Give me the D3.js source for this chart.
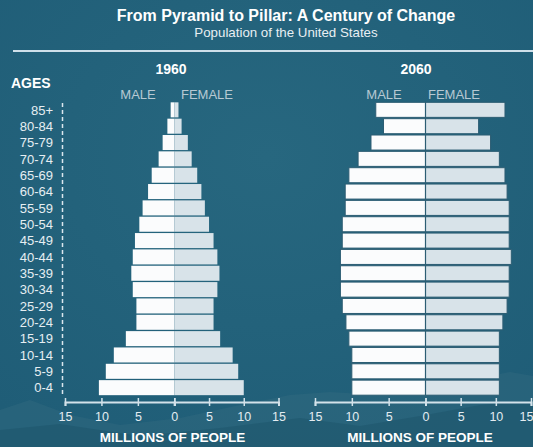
<!DOCTYPE html>
<html>
<head>
<meta charset="utf-8">
<script src="https://cdn.jsdelivr.net/npm/d3@7"></script>
<style>
  html, body { margin: 0; padding: 0; background: #21617b; }
  svg { display: block; font-family: "Liberation Sans", Arial, Helvetica, sans-serif; }
</style>
</head>
<body>
<svg id="chart" width="533" height="447"></svg>
<script>
// ---- data ----
const ages = ["85+","80-84","75-79","70-74","65-69","60-64","55-59","50-54","45-49","40-44","35-39","30-34","25-29","20-24","15-19","10-14","5-9","0-4"];
const male1960   = [0.5,0.95,1.6,2.15,3.1,3.6,4.35,4.8,5.4,5.7,5.9,5.7,5.2,5.2,6.65,8.3,9.4,10.35];
const female1960 = [0.6,1.05,1.95,2.5,3.3,3.9,4.4,5.0,5.65,6.2,6.5,6.2,5.65,5.65,6.6,8.4,9.2,10.0];
const male2060   = [6.75,5.7,7.4,9.15,10.4,10.9,10.9,11.3,11.3,11.55,11.55,11.55,11.3,10.8,10.4,10.0,10.0,10.0];
const female2060 = [11.3,7.55,9.25,10.5,11.3,11.6,11.9,11.9,11.9,12.2,11.9,11.9,11.6,11.0,10.5,10.5,10.5,10.5];
const tickValues = [0,5,10,15];
const years = ["1960","2060"];
const sexLabels = ["MALE","FEMALE"];
const title = "From Pyramid to Pillar: A Century of Change";
const subtitle = "Population of the United States";
const axisTitle = "MILLIONS OF PEOPLE";

// ---- drawing ----
const svg = d3.select("#chart");
const W = 533, H = 447;

// background
const defs = svg.append("defs");
const grad = defs.append("radialGradient").attr("id","bg").attr("cx","50%").attr("cy","35%").attr("r","75%");
grad.append("stop").attr("offset","0%").attr("stop-color","#27677f");
grad.append("stop").attr("offset","100%").attr("stop-color","#1f5d77");
svg.append("rect").attr("width",W).attr("height",H).attr("fill","url(#bg)");

// faint mountains
svg.append("path")
  .attr("d","M0,410 L30,400 L70,415 L120,425 L180,418 L240,405 L290,395 L330,392 L380,395 L430,388 L480,378 L510,372 L533,376 L533,447 L0,447 Z")
  .attr("fill","#3a6f86").attr("opacity",0.3);
svg.append("path")
  .attr("d","M0,430 L60,424 L140,436 L220,428 L300,418 L360,426 L420,416 L480,405 L533,400 L533,447 L0,447 Z")
  .attr("fill","#1b5269").attr("opacity",0.45);

// title
svg.append("text").attr("x",286).attr("y",21).attr("text-anchor","middle")
  .attr("fill","#ffffff").attr("font-size",16).attr("font-weight","bold").text(title);
svg.append("text").attr("x",286).attr("y",37).attr("text-anchor","middle")
  .attr("fill","#e8eff3").attr("font-size",13.3).text(subtitle);
svg.append("line").attr("x1",13).attr("x2",533).attr("y1",51).attr("y2",51)
  .attr("stroke","#cfe0ea").attr("stroke-width",2);

// AGES
svg.append("text").attr("x",11).attr("y",88).attr("fill","#ffffff")
  .attr("font-size",14).attr("font-weight","bold").text("AGES");

const y = d3.scaleBand().domain(ages).range([102, 395.5]).paddingInner(0.08).paddingOuter(0.02);

// age labels
svg.append("g").selectAll("text").data(ages).join("text")
  .attr("x",53).attr("y",d => y(d) + y.bandwidth()/2).attr("dy","0.36em")
  .attr("text-anchor","end").attr("fill","#e6eef2").attr("font-size",13).text(d => d);

// dashed line
svg.append("line").attr("x1",62.5).attr("x2",62.5).attr("y1",103).attr("y2",395)
  .attr("stroke","#dbe7ee").attr("stroke-width",1.5).attr("stroke-dasharray","4,3");

const charts = [
  { year: years[0], male: male1960, female: female1960, center: 174.3, left: 65, right: 278.5, yearX: 171, maleX: 138, femaleX: 207, titleX: 172.5, centerLine: false },
  { year: years[1], male: male2060, female: female2060, center: 425.5, left: 315, right: 531, yearX: 416, maleX: 384, femaleX: 454, titleX: 420, centerLine: true }
];

charts.forEach(c => {
  const xm = d3.scaleLinear().domain([0,15]).range([c.center, c.left]);
  const xf = d3.scaleLinear().domain([0,15]).range([c.center, c.right]);
  const g = svg.append("g");

  g.append("text").attr("x",c.yearX).attr("y",74).attr("text-anchor","middle")
    .attr("fill","#ffffff").attr("font-size",14).attr("font-weight","bold").text(c.year);
  g.append("text").attr("x",c.maleX).attr("y",99).attr("text-anchor","middle")
    .attr("fill","#b7c9d3").attr("font-size",13).text(sexLabels[0]);
  g.append("text").attr("x",c.femaleX).attr("y",99).attr("text-anchor","middle")
    .attr("fill","#b7c9d3").attr("font-size",13).text(sexLabels[1]);

  // male bars
  g.append("g").selectAll("rect").data(ages).join("rect")
    .attr("x",(d,i) => xm(c.male[i]))
    .attr("y",d => y(d))
    .attr("width",(d,i) => xm(0) - xm(c.male[i]))
    .attr("height",y.bandwidth())
    .attr("fill","#fbfcfd")
    .attr("stroke", c.centerLine ? "#2c5d73" : "none").attr("stroke-width",1);
  // female bars
  g.append("g").selectAll("rect").data(ages).join("rect")
    .attr("x",xf(0))
    .attr("y",d => y(d))
    .attr("width",(d,i) => xf(c.female[i]) - xf(0))
    .attr("height",y.bandwidth())
    .attr("fill","#d8e3e9")
    .attr("stroke", c.centerLine ? "#2c5d73" : "none").attr("stroke-width",1);

  if (c.centerLine) {
    g.append("line").attr("x1",c.center).attr("x2",c.center)
      .attr("y1",y(ages[0])).attr("y2",y(ages[ages.length-1]) + y.bandwidth())
      .attr("stroke","#2c5d73").attr("stroke-width",1.2);
  }

  // axes
  const axY = 402;
  const axM = g.append("g").attr("transform",`translate(0,${axY})`)
    .call(d3.axisBottom(xm).tickValues(tickValues).tickSizeOuter(0).tickSize(4));
  const axF = g.append("g").attr("transform",`translate(0,${axY})`)
    .call(d3.axisBottom(xf).tickValues(tickValues).tickSizeOuter(0).tickSize(4).tickFormat(d => d === 0 ? "" : d));
  [axM, axF].forEach(a => {
    a.select(".domain").attr("stroke","#d3e2ea").attr("stroke-width",2);
    a.selectAll(".tick line").attr("stroke","#d3e2ea").attr("stroke-width",1.5).attr("y1",-4).attr("y2",4);
    a.selectAll(".tick text").attr("fill","#e3ecf1").attr("font-size",12.5)
      .attr("font-family","'Liberation Sans', Arial, sans-serif").attr("y",10).attr("dy","0.71em");
  });
  // keep the right-most label inside the frame
  axF.selectAll(".tick text").filter(d => xf(d) + 8 > W).attr("text-anchor","end").attr("x",2);

  g.append("text").attr("x",c.titleX).attr("y",442).attr("text-anchor","middle")
    .attr("fill","#ffffff").attr("font-size",13.5).attr("font-weight","bold").text(axisTitle);
});
</script>
</body>
</html>
